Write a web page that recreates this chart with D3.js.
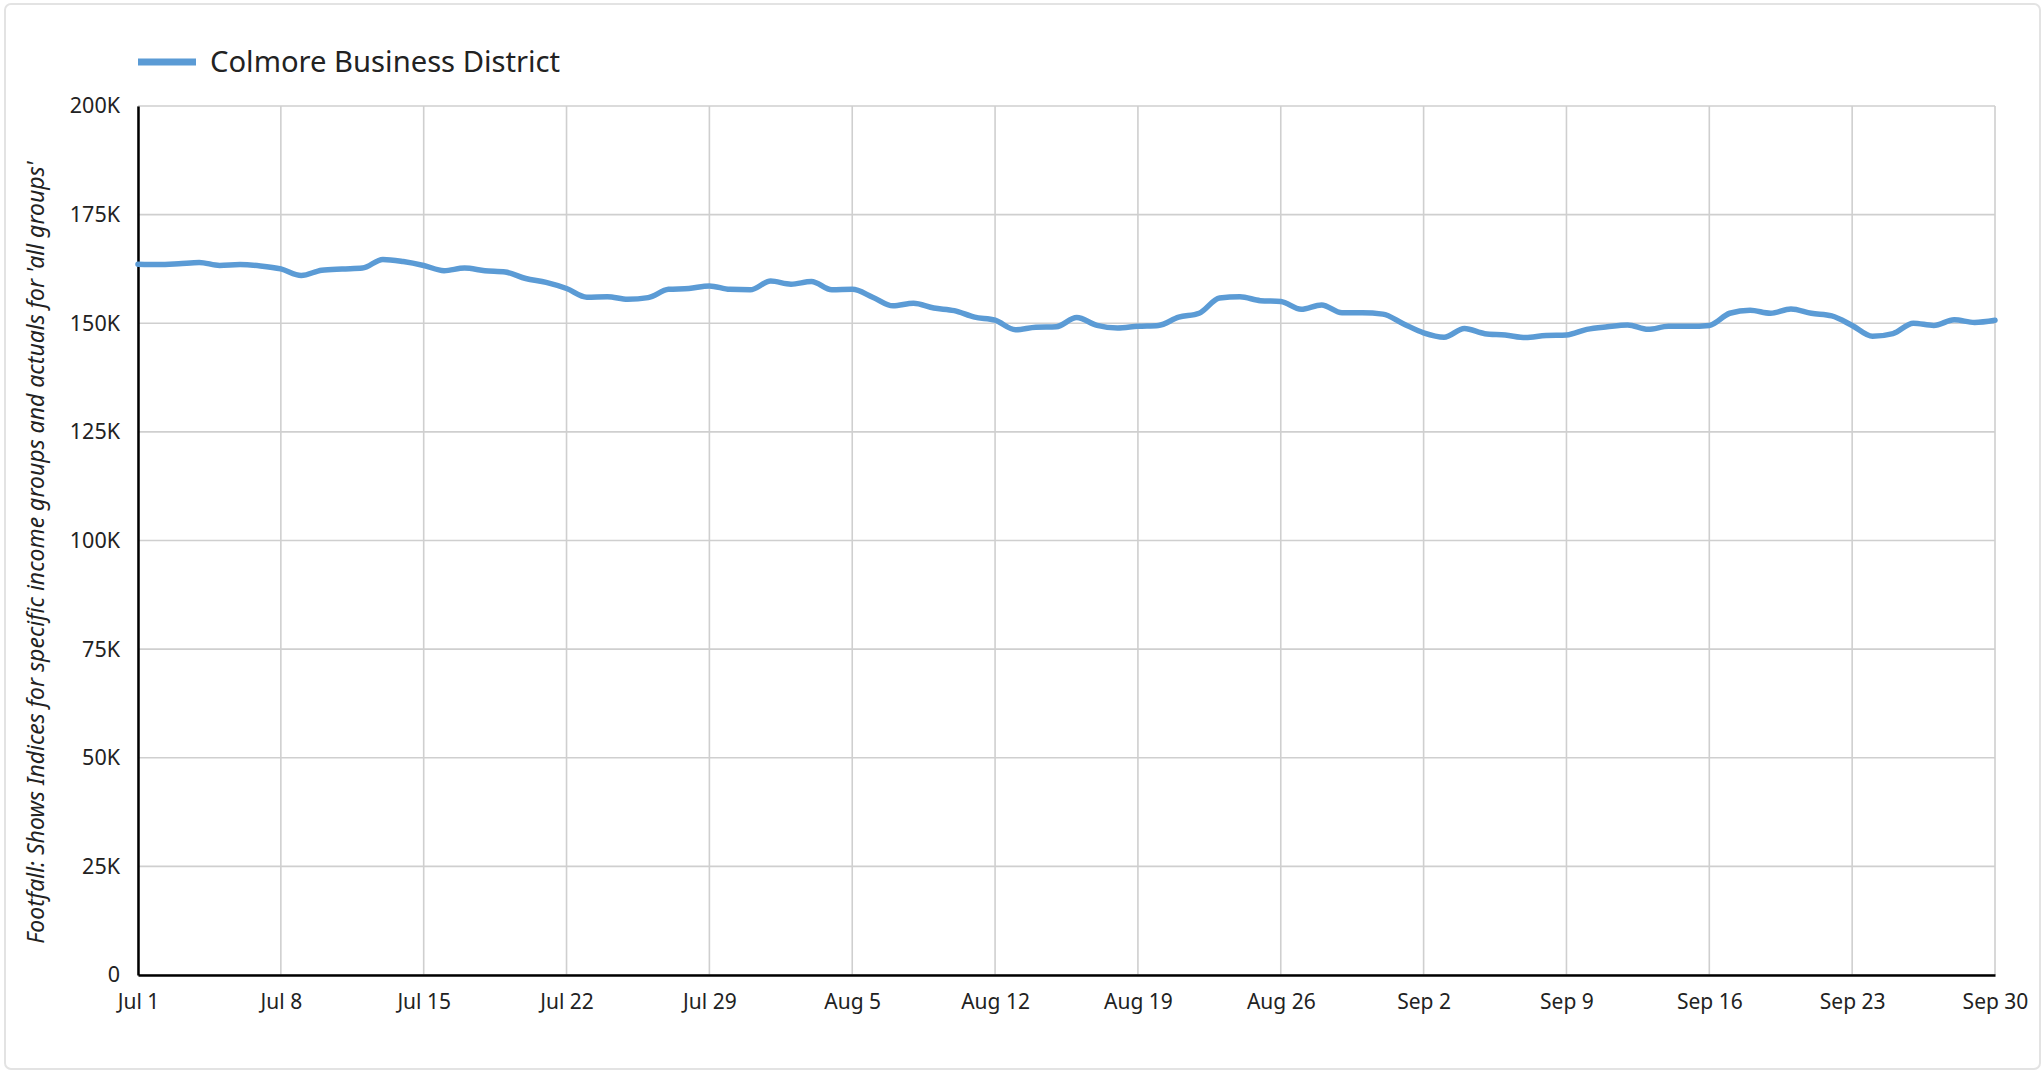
<!DOCTYPE html>
<html>
<head>
<meta charset="utf-8">
<script src="https://cdn.jsdelivr.net/npm/d3@7"></script>
<style>
  html, body { margin: 0; padding: 0; background: #fff; }
  svg { display: block; }
  text { font-family: "Noto Sans", Roboto, sans-serif; fill: #222; }
</style>
</head>
<body>
<svg id="chart" width="2043" height="1071"></svg>
<script>
// daily footfall, Jul 1 .. Sep 30
const seriesName = "Colmore Business District";
const yTitle = "Footfall: Shows Indices for specific income groups and actuals for 'all groups'";
const startDate = new Date(2024, 6, 1);
const endDate = new Date(2024, 8, 30);
const footfall = [
  163.6, 163.5, 163.7, 164.0, 163.3, 163.5, 163.2,   // Jul 1-7
  162.5, 161.0, 162.2, 162.5, 162.7, 164.7, 164.2,   // Jul 8-14
  163.3, 162.1, 162.7, 162.1, 161.8, 160.3, 159.4,   // Jul 15-21
  158.0, 156.0, 156.1, 155.5, 155.9, 157.8, 158.0,   // Jul 22-28
  158.6, 157.8, 157.7, 159.7, 159.0, 159.6, 157.7,   // Jul 29-Aug 4
  157.8, 156.0, 154.0, 154.6, 153.5, 152.9, 151.4,   // Aug 5-11
  150.7, 148.5, 149.1, 149.2, 151.3, 149.5, 148.9,   // Aug 12-18
  149.3, 149.5, 151.4, 152.3, 155.8, 156.1, 155.2,   // Aug 19-25
  155.0, 153.2, 154.2, 152.4, 152.4, 152.1, 149.9,   // Aug 26-Sep 1
  147.8, 146.8, 148.8, 147.6, 147.3, 146.7, 147.2,   // Sep 2-8
  147.3, 148.6, 149.2, 149.6, 148.6, 149.3, 149.3,   // Sep 9-15
  149.5, 152.3, 153.0, 152.3, 153.3, 152.3, 151.7,   // Sep 16-22
  149.5, 147.0, 147.6, 150.0, 149.5, 150.8, 150.2,   // Sep 23-29
  150.7                                              // Sep 30
].map(v => v * 1000);
const yTicks = [0, 25000, 50000, 75000, 100000, 125000, 150000, 175000, 200000];

const dates = d3.timeDay.range(startDate, d3.timeDay.offset(endDate, 1));
const data = dates.map((d, i) => ({ date: d, value: footfall[i] }));

const margin = { left: 138, right: 48, top: 106, bottom: 96 };
const W = 2043, H = 1071;
const width = W - margin.left - margin.right;
const height = H - margin.top - margin.bottom;

const svg = d3.select("#chart");

// card frame
svg.append("rect")
  .attr("x", 5).attr("y", 4)
  .attr("width", W - 8).attr("height", H - 6)
  .attr("rx", 6)
  .attr("fill", "#fff")
  .attr("stroke", "#e3e3e3")
  .attr("stroke-width", 2);

const g = svg.append("g")
  .attr("transform", `translate(${margin.left},${margin.top})`);

const x = d3.scaleTime().domain([startDate, endDate]).range([0, width]);
const y = d3.scaleLinear().domain([0, 200000]).range([height, 0]);

const xTicks = d3.timeDay.range(startDate, d3.timeDay.offset(endDate, 1), 7);

// grid
g.append("g").selectAll("line")
  .data(yTicks)
  .join("line")
  .attr("x1", 0).attr("x2", width)
  .attr("y1", d => y(d)).attr("y2", d => y(d))
  .attr("stroke", "#cfcfcf").attr("stroke-width", 1.6);

g.append("g").selectAll("line")
  .data(xTicks)
  .join("line")
  .attr("x1", d => x(d)).attr("x2", d => x(d))
  .attr("y1", 0).attr("y2", height)
  .attr("stroke", "#cfcfcf").attr("stroke-width", 1.6);

// y axis
const yAxis = g.append("g")
  .call(d3.axisLeft(y).tickValues(yTicks).tickSize(0).tickPadding(18)
    .tickFormat(d => d === 0 ? "0" : d3.format("d")(d / 1000) + "K"));
yAxis.select(".domain").attr("stroke", "#000").attr("stroke-width", 2.5);
yAxis.selectAll("text").attr("font-size", 21.5).attr("fill", "#222")
  .style("font-family", "'Noto Sans', sans-serif");

// x axis
const xAxis = g.append("g")
  .attr("transform", `translate(0,${height})`)
  .call(d3.axisBottom(x).tickValues(xTicks).tickSize(0).tickPadding(19)
    .tickFormat(d3.timeFormat("%b %-d")));
xAxis.select(".domain").attr("stroke", "#000").attr("stroke-width", 2.5);
xAxis.selectAll("text").attr("font-size", 21).attr("fill", "#222")
  .style("font-family", "'Noto Sans', sans-serif");

// line
const line = d3.line()
  .x(d => x(d.date))
  .y(d => y(d.value))
  .curve(d3.curveMonotoneX);

g.append("path")
  .datum(data)
  .attr("fill", "none")
  .attr("stroke", "#5b9bd5")
  .attr("stroke-width", 5.5)
  .attr("stroke-linejoin", "round")
  .attr("stroke-linecap", "round")
  .attr("d", line);

// y title
svg.append("text")
  .attr("transform", `translate(36,${margin.top + height / 2 + 12}) rotate(-90)`)
  .attr("text-anchor", "middle")
  .attr("dy", "0.35em")
  .attr("font-size", 23)
  .attr("font-style", "italic")
  .text(yTitle);

// legend
const legend = svg.append("g").attr("transform", "translate(138,62)");
legend.append("line")
  .attr("x1", 0).attr("x2", 58)
  .attr("y1", 0).attr("y2", 0)
  .attr("stroke", "#5b9bd5").attr("stroke-width", 7);
legend.append("text")
  .attr("x", 72).attr("dy", "0.35em")
  .attr("font-size", 29.2)
  .text(seriesName);
</script>
</body>
</html>
